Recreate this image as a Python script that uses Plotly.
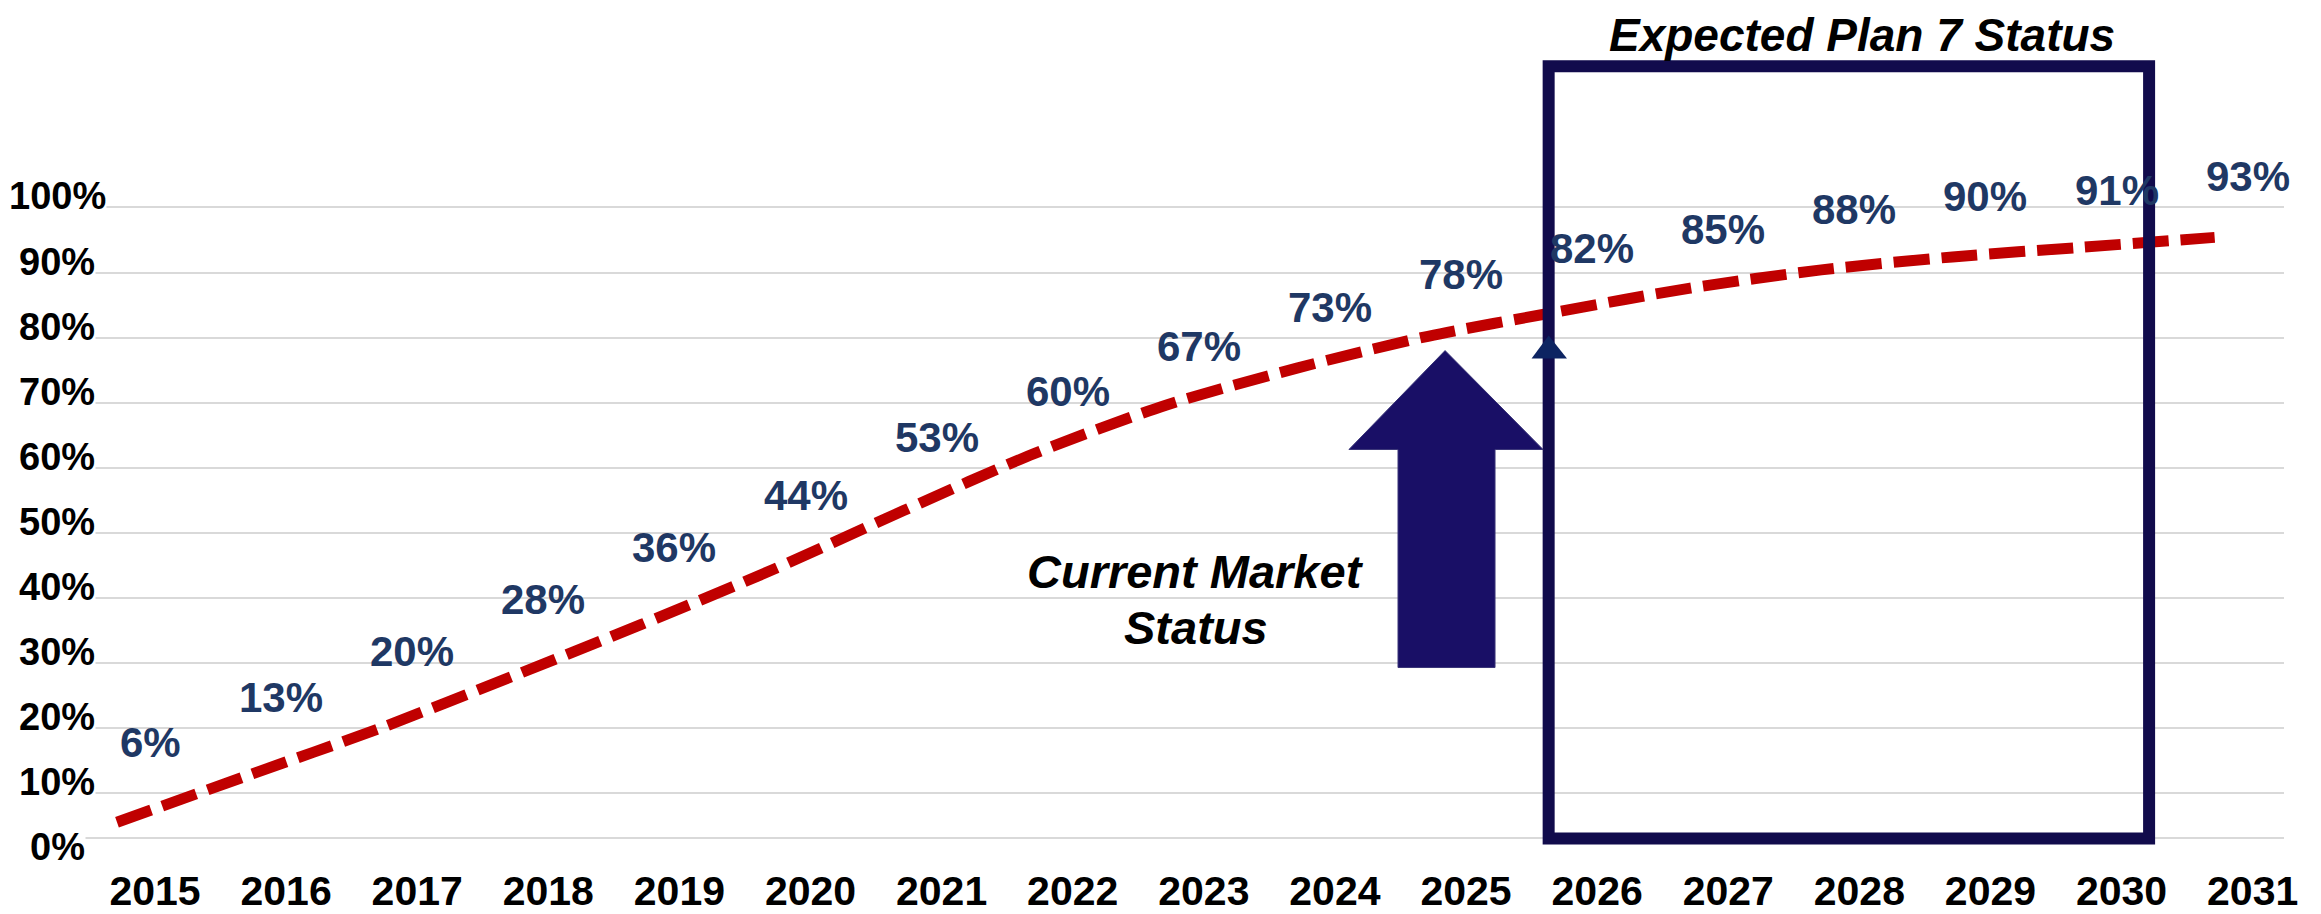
import plotly.graph_objects as go

# ---------------- data ----------------
years = list(range(2015, 2032))
label_values = [6, 13, 20, 28, 36, 44, 53, 60, 67, 73, 78, 82, 85, 88, 90, 91, 93]          # data labels (%)
line_values = [5.5, 12.7, 19.9, 27.8, 35.9, 44.3, 53.4, 62.2, 69.6, 75.3, 80.2,
               84.0, 87.6, 90.4, 92.4, 93.9, 95.4]                                           # dashed trend line (%)
y_tick_values = [0, 10, 20, 30, 40, 50, 60, 70, 80, 90, 100]
y_tick_labels = ["0%", "10%", "20%", "30%", "40%", "50%", "60%", "70%", "80%", "90%", "100%"]
baseline = 3.0  # grey base rule drawn slightly above 0 in the original

title_text = "Expected Plan 7 Status"
current_lines = ["Current Market", "Status"]

FONT = "Liberation Sans, Arial, sans-serif"
RED = "#C00000"
NAVY_TXT = "#1F3864"
BOX = "#110B4C"
ARROW = "#190F66"
GRID = "#D9D9D9"

fig = go.Figure()

fig.add_trace(go.Scatter(
    x=years, y=line_values, mode="lines",
    line=dict(color=RED, width=11, dash="36px,12px", shape="spline", smoothing=0.8),
    hoverinfo="skip", showlegend=False,
))

# data labels
for yr, v in zip(years, label_values):
    fig.add_annotation(x=yr, y=v, text=f"{v}%", showarrow=False,
                       xshift=33, yshift=76, xanchor="center", yanchor="middle",
                       font=dict(family=FONT, size=42, color=NAVY_TXT, weight="bold"))

# y tick labels (white background like the original)
for v, t in zip(y_tick_values, y_tick_labels):
    fig.add_annotation(xref="paper", x=0, y=v, text=t, showarrow=False,
                       xshift=-25, yshift=11, xanchor="center", yanchor="middle",
                       bgcolor="white", borderpad=0,
                       font=dict(family=FONT, size=38, color="black", weight="bold"))

# "Expected Plan 7" box
box_x0, box_x1 = 2025.92, 2030.5
box_y0, box_y1 = baseline, 121.7
fig.add_shape(type="rect", x0=box_x0, x1=box_x1, y0=box_y0, y1=box_y1,
              line=dict(color=BOX, width=12), fillcolor="rgba(0,0,0,0)", layer="above")
fig.add_annotation(x=(box_x0 + box_x1) / 2, y=126.5, text=title_text, showarrow=False,
                   xshift=13, xanchor="center", yanchor="middle", borderpad=0,
                   font=dict(family=FONT, size=46, color="black", weight="bold", style="italic"))

# small arrow head on the box edge
fig.add_shape(type="path",
              path=f"M {box_x0-0.13},76.8 L {box_x0},80.3 L {box_x0+0.14},76.8 Z",
              fillcolor="#0D2462", line=dict(width=0), layer="above")

# big "current market" arrow
ax_l, ax_sl, ax_sr, ax_r, ax_tip = 2024.397, 2024.771, 2025.511, 2025.877, 2025.13
ay_bot, ay_base, ay_tip = 29.28, 62.8, 78.0
fig.add_shape(type="path",
              path=(f"M {ax_sl},{ay_bot} L {ax_sl},{ay_base} L {ax_l},{ay_base} L {ax_tip},{ay_tip} "
                    f"L {ax_r},{ay_base} L {ax_sr},{ay_base} L {ax_sr},{ay_bot} Z"),
              fillcolor=ARROW, line=dict(color="#3A3578", width=1), layer="above")
for txt, yv in zip(current_lines, [44.0, 35.4]):
    fig.add_annotation(x=2023.23, y=yv, text=txt, showarrow=False,
                       xanchor="center", yanchor="middle",
                       font=dict(family=FONT, size=47, color="black", weight="bold", style="italic"))

# page body has an 8px margin, so the figure is 8px smaller than the window
fig.update_layout(
    width=2313, height=906,
    margin=dict(l=74, r=37, t=0, b=45),
    paper_bgcolor="white", plot_bgcolor="white",
    showlegend=False,
    xaxis=dict(range=[2014.733, 2031.529], tickmode="array", tickvals=years,
               ticktext=[str(y) for y in years], showgrid=False, zeroline=False,
               showline=False, ticks="", ticklabelshift=38, ticklabelstandoff=5,
               tickfont=dict(family=FONT, size=41, color="black", weight="bold")),
    yaxis=dict(range=[0, 130.66], tickmode="array",
               tickvals=[baseline] + y_tick_values[1:], showticklabels=False,
               showgrid=True, gridcolor=GRID, gridwidth=2, zeroline=False, showline=False, ticks=""),
)

fig.write_html("out.html")
